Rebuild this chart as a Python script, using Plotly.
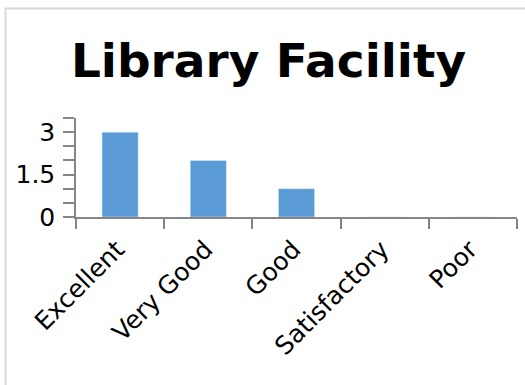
import plotly.graph_objects as go

categories = ["Excellent", "Very Good", "Good", "Satisfactory", "Poor"]
counts = [3, 2, 1, 0, 0]
y_tick_vals = [0, 1.5, 3]
y_tick_text = ["0", "1.5", "3"]

W, H = 525, 385
L, R, T, B = 76, 8, 118, 168
pw, ph = W - L - R, H - T - B

def px_to_paper(x, y):
    return (x - L) / pw, (H - B - y) / ph

axis_col = "#868686"
font = "DejaVu Sans"

fig = go.Figure(go.Bar(
    x=categories, y=counts, marker_color="#5b9bd5", width=0.41,
))

x0, y0 = px_to_paper(5.5, 8.5)
x1, y1 = px_to_paper(540, 400)
fig.add_shape(type="rect", xref="paper", yref="paper",
              x0=x0, y0=y1, x1=x1, y1=y0,
              line=dict(color="#d9d9d9", width=2), layer="below")

fig.update_layout(
    width=W, height=H,
    margin=dict(l=L, r=R, t=T, b=B),
    paper_bgcolor="white", plot_bgcolor="white",
    showlegend=False,
    font=dict(family=font, size=25, color="black"),
    title=dict(text="<b>Library Facility</b>", x=268.5 / W, xref="container",
               xanchor="center", y=1 - 77 / H, yanchor="bottom", yref="container",
               font=dict(family=font, size=47, color="black")),
)
fig.update_xaxes(
    type="category", tickson="boundaries", ticks="outside", ticklen=10,
    tickcolor=axis_col, tickwidth=1.5, showline=True, linecolor=axis_col,
    linewidth=1.5, showgrid=False, tickangle=-45, zeroline=False,
    tickfont=dict(size=25), ticklabelstandoff=6, ticklabelshift=-3,
)
fig.update_yaxes(
    range=[0, 3.5], tickvals=y_tick_vals, ticktext=y_tick_text,
    ticks="outside", ticklen=11, tickcolor=axis_col, tickwidth=1.5,
    showline=True, linecolor=axis_col, linewidth=1.5, showgrid=False,
    zeroline=False, tickfont=dict(size=25), ticklabelstandoff=3,
    minor=dict(dtick=0.5, tick0=0, ticks="outside", ticklen=11,
               tickcolor=axis_col, tickwidth=1.5, showgrid=False),
)

fig.write_html("out.html")
